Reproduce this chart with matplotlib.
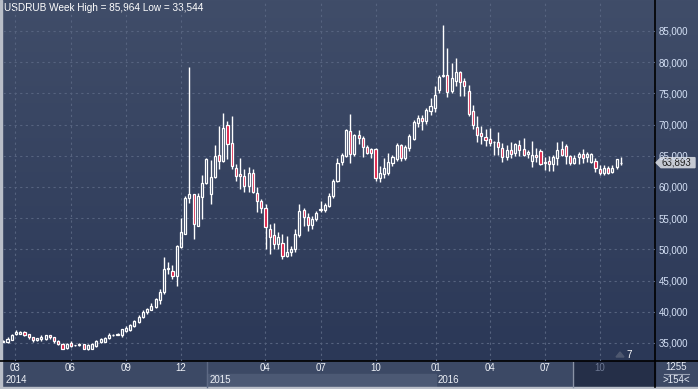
import numpy as np
import matplotlib.pyplot as plt
from matplotlib.patches import Rectangle, Polygon
from matplotlib.colors import LinearSegmentedColormap
from matplotlib.ticker import FuncFormatter

# USDRUB weekly candles (values in thousands, as on the right axis)
opens = [35.2, 35.15, 35.5, 36.5, 36.5, 36.8, 36.4, 35.95, 35.4, 35.7,
         35.6, 36.2, 35.9, 35.35, 34.9, 34.15, 35.0, 34.6, 34.6, 34.75,
         34.0, 34.05, 34.5, 35.15, 35.2, 35.8, 36.2, 36.3, 36.2, 36.9,
         37.0, 37.7, 38.4, 39.1, 39.9, 40.3, 40.8, 41.9, 43.1, 46.8,
         46.6, 45.7, 50.3, 52.5, 58.2, 58.8, 53.8, 58.4, 60.7, 58.9,
         61.65, 65.1, 64.2, 69.9, 67.0, 63.0, 62.0, 61.75, 60.2, 62.2,
         59.1, 57.8, 56.55, 53.3, 52.3, 50.9, 51.0, 48.95, 49.5, 50.1,
         52.3, 56.3, 55.2, 53.9, 54.9, 56.35, 56.3, 57.0, 58.5, 61.0,
         64.0, 65.0, 69.0, 65.3, 68.3, 67.9, 66.4, 66.0, 66.0, 61.5,
         62.0, 62.3, 63.9, 64.5, 66.7, 64.7, 66.3, 67.7, 70.3, 71.0,
         70.5, 72.1, 72.6, 75.5, 77.7, 77.9, 75.35, 77.0, 78.35, 77.0,
         75.35, 72.2, 69.6, 68.6, 68.0, 67.7, 67.2, 67.16, 66.2, 64.75,
         65.9, 65.5, 66.7, 66.03, 65.29, 64.22, 65.13, 65.77, 63.9, 64.22,
         63.68, 64.59, 66.09, 66.57, 64.97, 63.9, 64.75, 65.29, 64.75, 64.06,
         64.22, 62.88, 62.2, 62.99, 62.45, 63.15, 63.85]
highs = [35.5, 35.9, 36.4, 37.0, 36.9, 36.9, 36.5, 36.0, 35.85, 36.3,
         36.3, 36.3, 36.0, 35.5, 35.0, 35.0, 35.3, 34.7, 35.0, 34.8,
         34.8, 35.0, 35.4, 35.8, 36.0, 36.6, 36.4, 36.6, 37.3, 37.7,
         38.0, 38.7, 39.4, 40.2, 40.6, 41.4, 42.2, 43.7, 48.7, 47.9,
         47.5, 50.65, 55.05, 58.6, 79.25, 58.8, 59.1, 61.9, 64.6, 64.3,
         66.75, 69.8, 71.9, 70.6, 71.4, 63.7, 64.7, 62.8, 63.2, 62.9,
         60.0, 58.0, 57.2, 54.1, 54.2, 52.8, 52.4, 52.1, 50.6, 53.2,
         57.25, 56.6, 55.75, 55.4, 56.2, 57.7, 57.5, 59.0, 61.2, 64.7,
         65.4, 69.3, 71.7, 68.55, 69.2, 68.2, 66.8, 66.2, 66.2, 63.3,
         64.6, 65.5, 65.1, 67.1, 66.9, 66.7, 68.5, 70.7, 71.6, 71.5,
         72.6, 74.3, 76.2, 77.9, 85.96, 82.3, 79.8, 80.7, 78.6, 77.4,
         76.3, 73.1, 71.3, 69.7, 69.3, 69.4, 67.3, 68.8, 67.0, 66.73,
         67.26, 67.1, 67.5, 67.8, 65.9, 67.42, 66.2, 66.0, 64.75, 64.9,
         65.13, 67.26, 67.42, 66.9, 65.13, 65.13, 65.66, 66.0, 65.66, 65.5,
         64.6, 63.5, 63.52, 63.37, 63.52, 64.5, 64.86]
lows = [35.1, 35.0, 35.4, 36.2, 36.4, 36.1, 35.6, 35.2, 35.3, 35.3,
        35.5, 35.7, 35.0, 34.7, 34.05, 34.1, 34.4, 34.5, 34.5, 33.95,
        33.9, 33.95, 34.3, 35.0, 35.1, 35.7, 36.1, 36.2, 36.0, 36.7,
        36.9, 37.6, 38.2, 39.0, 39.7, 40.2, 40.6, 41.3, 42.9, 46.0,
        45.2, 44.2, 50.2, 52.4, 57.5, 51.6, 53.7, 54.8, 60.4, 57.3,
        61.5, 62.9, 64.0, 64.5, 62.9, 61.0, 59.7, 59.2, 59.2, 59.1,
        56.0, 55.8, 50.1, 49.3, 50.0, 50.1, 48.5, 48.7, 49.0, 49.6,
        52.0, 53.8, 52.9, 53.3, 54.6, 56.0, 56.0, 56.8, 58.3, 60.8,
        63.5, 64.8, 63.9, 65.0, 66.9, 64.85, 65.3, 64.7, 61.0, 60.8,
        61.5, 61.9, 63.3, 64.2, 64.2, 64.3, 65.8, 67.5, 69.6, 69.1,
        70.1, 71.6, 72.0, 75.0, 77.6, 74.4, 75.1, 76.2, 74.6, 74.6,
        71.4, 69.3, 67.2, 66.9, 66.6, 66.5, 65.1, 65.1, 64.06, 64.32,
        64.7, 64.9, 65.0, 64.9, 64.6, 63.26, 64.0, 63.5, 62.72, 62.6,
        62.6, 63.52, 64.9, 63.68, 63.5, 63.7, 63.63, 63.8, 64.06, 63.8,
        62.45, 61.92, 61.92, 62.08, 62.3, 62.9, 63.53]
closes = [35.35, 35.6, 36.3, 36.8, 36.8, 36.3, 35.9, 35.4, 35.75, 35.9,
          36.2, 35.9, 35.3, 34.8, 34.1, 34.9, 34.5, 34.65, 34.8, 34.0,
          34.6, 34.8, 35.3, 35.6, 35.8, 36.3, 36.3, 36.4, 37.2, 37.4,
          37.9, 38.5, 39.2, 40.0, 40.4, 40.9, 42.0, 43.1, 46.8, 47.0,
          45.8, 50.5, 52.7, 58.2, 58.9, 54.0, 58.5, 60.7, 64.5, 61.6,
          65.0, 64.1, 69.4, 66.9, 63.4, 61.7, 61.7, 60.2, 62.2, 59.2,
          57.8, 56.7, 53.6, 52.0, 50.8, 51.9, 49.0, 49.5, 50.0, 52.4,
          56.2, 55.1, 53.9, 54.8, 55.9, 56.45, 57.15, 58.6, 61.0, 63.8,
          65.1, 69.2, 65.2, 68.4, 67.9, 66.4, 65.4, 65.4, 61.5, 62.2,
          63.0, 64.0, 64.8, 66.7, 64.7, 66.4, 68.2, 70.4, 71.1, 70.6,
          72.3, 72.9, 74.7, 77.6, 77.9, 75.2, 77.4, 78.35, 76.85, 76.2,
          71.65, 69.9, 68.3, 68.2, 67.5, 67.1, 67.25, 66.46, 64.75, 65.93,
          65.29, 66.89, 65.9, 65.13, 65.66, 65.13, 64.75, 63.68, 63.95, 63.68,
          64.86, 65.93, 65.13, 64.97, 63.79, 64.59, 65.29, 64.59, 65.29, 65.29,
          62.99, 62.3, 63.0, 62.3, 63.1, 64.43, 63.893]

month_labels = ['03', '06', '09', '12', '04', '07', '10', '01', '04', '07', '10']
month_pos = [2.77, 15.9, 29.0, 42.0, 61.9, 75.1, 88.0, 102.2, 115.1, 128.1, 141.1]
year_labels = ['2014', '2015', '2016']
year_pos = [0.0, 48.2, 102.2]
price_ticks = [35, 40, 45, 50, 55, 60, 65, 70, 75, 80, 85]
last_price = 63.893
title = "USDRUB Week High = 85,964 Low = 33,544"

W, H = 698, 389
FONT = 'Liberation Sans'

fig = plt.figure(figsize=(W / 100, H / 100), dpi=100)

# background layer in pixel coordinates
bg = fig.add_axes([0, 0, 1, 1])
grad = np.linspace(0, 1, 256).reshape(-1, 1)
cmap = LinearSegmentedColormap.from_list('bg', ['#404d69', '#2b3857'])
bg.imshow(grad, extent=[0, W, 361, 0], cmap=cmap, aspect='auto', zorder=0)
bg.add_patch(Rectangle((0, 361), 655, 13, color='#3c4965', zorder=1))
bg.add_patch(Rectangle((0, 374), 655, 13, color='#3c4965', zorder=1))
bg.add_patch(Rectangle((207, 374), 229, 13, color='#4c5974', zorder=1))
bg.add_patch(Rectangle((573, 361), 82, 26, color='#252f48', zorder=2))
bg.add_patch(Rectangle((655, 361), 43, 26, color='#3c4965', zorder=1))
bg.add_patch(Rectangle((0, 387), W, 2, color='#b9bec8', zorder=3))
bg.add_patch(Rectangle((0, 0), 2, H, color='#b9bec8', zorder=3))
bg.plot([0, W], [361, 361], color='black', lw=1.2, zorder=4)
bg.plot([655, 655], [0, 387], color='black', lw=1.2, zorder=4)
bg.plot([207, 207], [362, 387], color='#5d6984', lw=1, zorder=3)
bg.plot([573, 573], [362, 387], color='#8a93a6', lw=1, zorder=3)
bg.plot([664, 689], [374, 374], color='#9aa3b5', lw=0.8, zorder=3)
bg.text(676, 367, '1255', ha='center', va='center', color='#e6ebf5', fontsize=7, family=FONT, zorder=5)
bg.text(676, 380, '>154<', ha='center', va='center', color='#e6ebf5', fontsize=7, family=FONT, zorder=5)
bg.text(4, 8, title, ha='left', va='center', color='white', fontsize=7.2, family=FONT, zorder=5)
bg.add_patch(Polygon([[616, 357], [620, 352], [624, 357]], color='#4e5870', zorder=5))
bg.text(626, 355, '7', ha='left', va='center', color='white', fontsize=7, family=FONT, zorder=5)
bg.set_xlim(0, W)
bg.set_ylim(H, 0)
bg.axis('off')

# main price axes
ax = fig.add_axes([3 / W, 28 / H, 652 / W, 360 / H])
ax.patch.set_alpha(0)
ax.set_xlim(-0.07, 154.07)
ax.set_ylim(32.1, 89.8)
for s in ax.spines.values():
    s.set_visible(False)
ax.set_xticks(month_pos)
ax.set_yticks(price_ticks)
ax.yaxis.tick_right()
ax.yaxis.set_major_formatter(FuncFormatter(lambda v, _: f"{int(round(v * 1000)):,}"))
ax.tick_params(axis='x', length=0, labelbottom=False)
ax.tick_params(axis='y', length=0, pad=2.5, labelsize=7, labelcolor='#d6e2f7')
for lab in ax.get_yticklabels():
    lab.set_family(FONT)
ax.grid(True, color='#56637f', linestyle=(0, (2, 3)), linewidth=0.8)
ax.set_axisbelow(True)

o = np.array(opens)
h = np.array(highs)
l = np.array(lows)
c = np.array(closes)
x = np.arange(len(o))
up = c >= o
top = np.maximum(o, c)
bot = np.minimum(o, c)
ax.vlines(x, top, h, color='white', lw=1, zorder=3)
ax.vlines(x, l, bot, color='white', lw=1, zorder=3)
ax.bar(x[up], (top - bot)[up], bottom=bot[up], width=0.5, facecolor='none',
       edgecolor='white', linewidth=0.9, zorder=4)
ax.bar(x[~up], (top - bot)[~up], bottom=bot[~up], width=0.5, facecolor='#dc143c',
       edgecolor='white', linewidth=0.9, zorder=4)

xt = ax.get_xaxis_transform()
for p, lab in zip(month_pos, month_labels):
    col = '#6d7893' if p > 134.7 else '#eef1f7'
    ax.text(p, -0.0195, lab, transform=xt, ha='center', va='center', color=col,
            fontsize=7, family=FONT, clip_on=False)
for p, lab in zip(year_pos, year_labels):
    ax.text(p + 0.5, -0.0535, lab, transform=xt, ha='left', va='center', color='#eef1f7',
            fontsize=7, family=FONT, clip_on=False)

# last price marker
fig.canvas.draw()
disp = ax.transData.transform((0, last_price))
py = bg.transData.inverted().transform(disp)[1]
bg.add_patch(Polygon([[656, py], [661, py - 5], [695, py - 5], [695, py + 5], [661, py + 5]],
                     color='#c6cad3', zorder=6))
bg.text(662, py, f"{int(round(last_price * 1000)):,}", ha='left', va='center',
        color='#1c1c1c', fontsize=7, family=FONT, zorder=7)

fig.savefig('out.png', dpi=100)
